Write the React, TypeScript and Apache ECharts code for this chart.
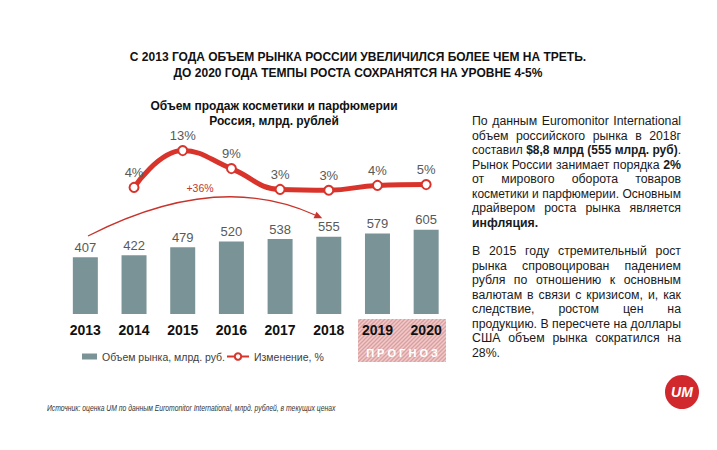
import React, { useEffect, useRef } from 'react';
import * as echarts from 'echarts';

const years = ['2013', '2014', '2015', '2016', '2017', '2018', '2019', '2020'];
const marketValues = [407, 422, 479, 520, 538, 555, 579, 605];
const growthValues: (number | string)[] = ['-', 3.9, 13.1, 8.6, 3.4, 3.2, 4.4, 4.6];

const titleLines = [
  'С 2013 ГОДА ОБЪЕМ РЫНКА РОССИИ УВЕЛИЧИЛСЯ БОЛЕЕ ЧЕМ НА ТРЕТЬ.',
  'ДО 2020 ГОДА ТЕМПЫ РОСТА СОХРАНЯТСЯ НА УРОВНЕ 4-5%',
];
const subtitleLines = ['Объем продаж косметики и парфюмерии', 'Россия, млрд. рублей'];
const legendNames = ['Объем рынка, млрд. руб.', 'Изменение, %'];
const growthNote = '+36%';
const forecastLabel = 'П Р О Г Н О З';
const footerText = 'Источник: оценка UM по данным Euromonitor International, млрд. рублей, в текущих ценах';
const logoText = 'UM';

const paragraph1 = [
  'По данным Euromonitor International',
  'объем российского рынка в 2018г',
  'составил **$8,8 млрд (555 млрд. руб)**.',
  'Рынок России занимает порядка **2%**',
  'от мирового оборота товаров',
  'косметики и парфюмерии. Основным',
  'драйвером роста рынка является',
  '**инфляция.**',
];
const paragraph2 = [
  'В 2015 году стремительный рост',
  'рынка спровоцирован падением',
  'рубля по отношению к основным',
  'валютам в связи с кризисом, и, как',
  'следствие, ростом цен на',
  'продукцию. В пересчете на доллары',
  'США объем рынка сократился на',
  '28%.',
];

const FONT = '"Liberation Sans", Arial, sans-serif';
const RED = '#d9342b';
const BAR = '#7a9396';

let ctx: CanvasRenderingContext2D | null = null;
function measure(text: string, size: number, bold = false, italic = false) {
  if (!ctx) ctx = document.createElement('canvas').getContext('2d');
  ctx!.font = `${italic ? 'italic ' : ''}${bold ? 'bold ' : ''}${size}px "Liberation Sans"`;
  return ctx!.measureText(text).width;
}

type Run = { t: string; b: boolean };
function parseLine(s: string): Run[] {
  const parts = s.split('**');
  return parts.map((t, i) => ({ t, b: i % 2 === 1 })).filter((r) => r.t.length > 0);
}
function toWords(runs: Run[]): Run[][] {
  const words: Run[][] = [];
  let cur: Run[] = [];
  runs.forEach((run) => {
    const parts = run.t.split(' ');
    parts.forEach((p, i) => {
      if (i > 0) {
        if (cur.length) words.push(cur);
        cur = [];
      }
      if (p) cur.push({ t: p, b: run.b });
    });
  });
  if (cur.length) words.push(cur);
  return words;
}

function paragraphElements(lines: string[], x0: number, x1: number, y0: number, lh: number, size: number) {
  const els: any[] = [];
  const W = x1 - x0;
  const space = measure(' ', size);
  lines.forEach((line, li) => {
    const words = toWords(parseLine(line));
    const widths = words.map((w) => w.reduce((s, r) => s + measure(r.t, size, r.b), 0));
    const total = widths.reduce((a, b) => a + b, 0);
    const last = li === lines.length - 1;
    const natural = total + space * (words.length - 1);
    let gap = space;
    let scale = 1;
    if (!last && words.length > 1) {
      if (natural > W) {
        scale = W / natural;
      } else {
        gap = (W - total) / (words.length - 1);
      }
    }
    const children: any[] = [];
    let x = 0;
    words.forEach((w, wi) => {
      let xx = x;
      w.forEach((r) => {
        children.push({
          type: 'text',
          x: xx,
          y: 0,
          style: {
            text: r.t,
            fill: '#1a1a1a',
            fontSize: size,
            fontWeight: r.b ? 'bold' : 'normal',
            fontFamily: FONT,
            textAlign: 'left',
            verticalAlign: 'middle',
          },
        });
        xx += measure(r.t, size, r.b);
      });
      x += widths[wi] + gap;
    });
    els.push({ type: 'group', x: x0, y: y0 + li * lh, scaleX: scale, children });
  });
  return els;
}

function buildOption() {
  const footSize = 9.5;
  const footScale = 289 / measure(footerText, footSize, false, true);

  // arrow geometry
  const ax1 = 88, ay1 = 236, cx = 217, cy = 170, ax2 = 315, ay2 = 215;
  const dx = ax2 - cx, dy = ay2 - cy;
  const len = Math.hypot(dx, dy);
  const ux = dx / len, uy = dy / len;
  const tipX = ax2 + ux * 8, tipY = ay2 + uy * 8;
  const px = -uy, py = ux;

  const stripe =
    'data:image/svg+xml;utf8,' +
    encodeURIComponent(
      '<svg xmlns="http://www.w3.org/2000/svg" width="4" height="4"><rect width="4" height="4" fill="#efcaca"/><path d="M-1,1 L1,-1 M0,4 L4,0 M3,5 L5,3" stroke="#dc9e9e" stroke-width="1.3"/></svg>'
    );

  const graphic: any[] = [
    ...titleLines.map((t, i) => ({
      type: 'text',
      x: 358,
      y: 57 + i * 16,
      style: { text: t, fill: '#111', fontSize: 12, fontWeight: 'bold', fontFamily: FONT, textAlign: 'center', verticalAlign: 'middle' },
    })),
    ...subtitleLines.map((t, i) => ({
      type: 'text',
      x: 274,
      y: 106 + i * 15,
      style: { text: t, fill: '#111', fontSize: 12, fontWeight: 'bold', fontFamily: FONT, textAlign: 'center', verticalAlign: 'middle' },
    })),
    {
      type: 'rect',
      z: -1,
      shape: { x: 358, y: 319, width: 88, height: 43 },
      style: { fill: { type: 'pattern', image: stripe, repeat: 'repeat' } },
    },
    {
      type: 'text',
      x: 402,
      y: 352.5,
      style: { text: forecastLabel, fill: '#ffffff', fontSize: 11, fontWeight: 'bold', fontFamily: FONT, textAlign: 'center', verticalAlign: 'middle' },
    },
    {
      type: 'bezierCurve',
      shape: { x1: ax1, y1: ay1, x2: ax2, y2: ay2, cpx1: cx, cpy1: cy },
      style: { stroke: '#c8332b', lineWidth: 1.3, fill: null },
    },
    {
      type: 'polygon',
      shape: {
        points: [
          [tipX, tipY],
          [ax2 + px * 3.5, ay2 + py * 3.5],
          [ax2 - px * 3.5, ay2 - py * 3.5],
        ],
      },
      style: { fill: '#c8332b' },
    },
    {
      type: 'text',
      x: 200,
      y: 188,
      style: { text: growthNote, fill: '#c0392b', fontSize: 10.5, fontFamily: FONT, textAlign: 'center', verticalAlign: 'middle' },
    },
    ...paragraphElements(paragraph1, 472, 681, 121, 14.5, 12.3),
    ...paragraphElements(paragraph2, 472, 681, 251, 14.5, 12.3),
    {
      type: 'text',
      x: 47,
      y: 408,
      scaleX: footScale,
      style: { text: footerText, fill: '#333', fontSize: footSize, fontStyle: 'italic', fontFamily: FONT, textAlign: 'left', verticalAlign: 'middle' },
    },
    {
      type: 'circle',
      shape: { cx: 682, cy: 392, r: 17 },
      style: { fill: '#d1282e' },
    },
    {
      type: 'text',
      x: 682,
      y: 392,
      style: { text: logoText, fill: '#fff', fontSize: 14, fontWeight: 'bold', fontStyle: 'italic', fontFamily: FONT, textAlign: 'center', verticalAlign: 'middle' },
    },
  ];

  const legendText = { fontSize: 10.5, color: '#404040', fontFamily: FONT };

  return {
    animation: false,
    backgroundColor: '#ffffff',
    textStyle: { fontFamily: FONT },
    grid: { left: 61, right: 266.5, top: 140, bottom: 136 },
    legend: [
      {
        left: 77,
        top: 346,
        itemWidth: 15,
        itemHeight: 6,
        textStyle: legendText,
        data: [{ name: legendNames[0], icon: 'rect' }],
      },
      {
        left: 221,
        top: 346,
        itemWidth: 22,
        itemHeight: 8,
        textStyle: legendText,
        data: [{ name: legendNames[1] }],
      },
    ],
    xAxis: {
      type: 'category',
      data: years,
      z: 10,
      axisLine: { show: false },
      axisTick: { show: false },
      axisLabel: { color: '#111', fontSize: 14, fontWeight: 'bold', margin: 9, fontFamily: FONT },
    },
    yAxis: [
      { type: 'value', min: 0, max: 1250, show: false, splitLine: { show: false } },
      { type: 'value', min: -27.75, max: 15.75, show: false, splitLine: { show: false } },
    ],
    series: [
      {
        name: legendNames[0],
        type: 'bar',
        data: marketValues,
        barWidth: 25,
        itemStyle: { color: BAR },
        label: { show: true, position: 'top', distance: 3.5, fontSize: 13, color: '#595959', fontFamily: FONT },
      },
      {
        name: legendNames[1],
        type: 'line',
        yAxisIndex: 1,
        data: growthValues,
        smooth: 0.45,
        z: 5,
        symbol: 'circle',
        symbolSize: 9,
        lineStyle: { color: RED, width: 5 },
        itemStyle: { color: '#ffffff', borderColor: RED, borderWidth: 2 },
        label: {
          show: true,
          position: 'top',
          distance: 3,
          fontSize: 13,
          color: '#595959',
          fontFamily: FONT,
          formatter: (p: any) => Math.round(p.value) + '%',
        },
      },
    ],
    graphic,
  };
}

export default function App() {
  const ref = useRef<HTMLDivElement>(null);
  useEffect(() => {
    document.body.style.margin = '0';
    const chart = echarts.init(ref.current!, null, { renderer: 'svg', width: 717, height: 450 });
    chart.setOption(buildOption() as any);
    return () => chart.dispose();
  }, []);
  return <div ref={ref} style={{ width: 717, height: 450, position: 'absolute', left: 0, top: 0 }} />;
}
